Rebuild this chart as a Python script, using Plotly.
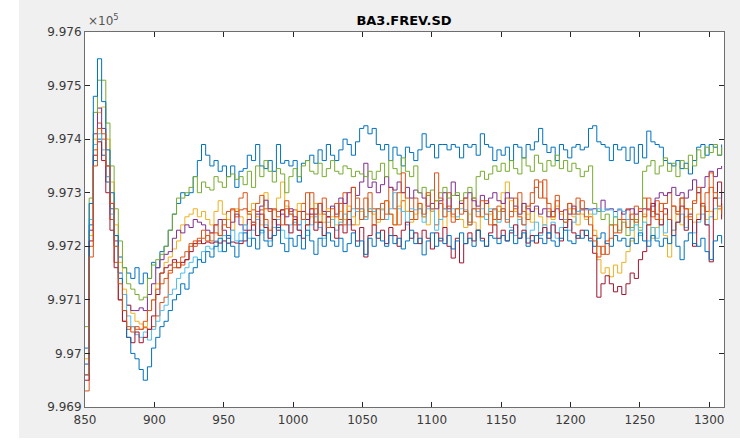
import plotly.graph_objects as go

# sample times (every 3 units from 850 to 1309)
t = list(range(850, 1310, 3))

# values in Hz (axis shown as x10^5)
blue_high = [
    997010, 997240, 997360, 997400, 997370, 997320, 997270, 997220, 997180, 997160,
    997150, 997140, 997160, 997130, 997150, 997140, 997170, 997160, 997190, 997200,
    997230, 997260, 997280, 997300, 997295, 997300, 997330, 997360, 997390, 997370,
    997350, 997360, 997340, 997350, 997330, 997350, 997310, 997340, 997345, 997370,
    997360, 997390, 997350, 997345, 997360, 997340, 997390, 997355, 997360, 997350,
    997360, 997320, 997355, 997360, 997370, 997355, 997380, 997360, 997390, 997370,
    997360, 997380, 997400, 997390, 997370, 997395, 997420, 997425, 997410, 997420,
    997390, 997380, 997390, 997360, 997385, 997370, 997350, 997385, 997375, 997360,
    997380, 997410, 997385, 997390, 997365, 997390, 997390, 997380, 997390, 997385,
    997365, 997390, 997385, 997390, 997370, 997410, 997390, 997385, 997360, 997380,
    997370, 997385, 997360, 997390, 997385, 997365, 997390, 997380, 997395, 997420,
    997390, 997375, 997385, 997360, 997390, 997380, 997365, 997385, 997390, 997380,
    997385, 997420, 997425, 997395, 997390, 997385, 997360, 997390, 997380, 997385,
    997360, 997385, 997355, 997390, 997365, 997415, 997395, 997390, 997385, 997360,
    997355, 997350, 997360, 997345, 997355, 997335, 997360, 997385, 997390, 997370,
    997390, 997385, 997370, 997390]

orange_a = [
    996930, 997200, 997380, 997430, 997400, 997330, 997250, 997170, 997100, 997060,
    997045, 997050, 997045, 997045, 997048, 997045, 997050, 997070, 997095, 997105,
    997150, 997160, 997170, 997165, 997175, 997200, 997210, 997205, 997215, 997220,
    997210, 997225, 997220, 997240, 997265, 997268, 997265, 997268, 997270, 997265,
    997268, 997265, 997268, 997270, 997265, 997268, 997265, 997268, 997270, 997265,
    997268, 997265, 997280, 997260, 997300, 997270, 997245, 997290, 997265, 997250,
    997280, 997250, 997300, 997265, 997240, 997290, 997270, 997255, 997300, 997270,
    997250, 997280, 997260, 997310, 997270, 997240, 997285, 997265, 997250, 997290,
    997270, 997255, 997295, 997265, 997240, 997280, 997270, 997300, 997260, 997250,
    997280, 997265, 997245, 997290, 997270, 997255, 997285, 997265, 997250, 997275,
    997265, 997290, 997255, 997270, 997300, 997265, 997250, 997280, 997310, 997320,
    997290, 997270, 997255, 997285, 997265, 997250, 997280, 997270, 997260, 997285,
    997270, 997255, 997220, 997200, 997185, 997210, 997240, 997225, 997250, 997265,
    997270, 997250, 997275, 997265, 997290, 997270, 997255, 997285, 997265, 997280,
    997300, 997275, 997265, 997290, 997270, 997255, 997280, 997300, 997275, 997265,
    997310, 997290, 997270, 997280]

yellow = [
    996990, 997220, 997400, 997450, 997460, 997400, 997320, 997240, 997170, 997120,
    997090, 997075, 997060, 997055, 997050, 997080, 997100, 997130, 997150, 997170,
    997180, 997195, 997210, 997240, 997255, 997260, 997270, 997255, 997265, 997250,
    997240, 997265, 997285, 997260, 997250, 997230, 997270, 997255, 997240, 997260,
    997280, 997255, 997240, 997300, 997270, 997250, 997290, 997320, 997275, 997260,
    997250, 997280, 997265, 997240, 997255, 997280, 997260, 997245, 997270, 997255,
    997240, 997265, 997250, 997275, 997255, 997240, 997265, 997250, 997270, 997260,
    997245, 997270, 997285, 997260, 997240, 997275, 997300, 997265, 997245, 997260,
    997280, 997255, 997240, 997265, 997285, 997250, 997235, 997265, 997255, 997270,
    997250, 997235, 997260, 997245, 997230, 997255, 997280, 997260, 997240, 997265,
    997300, 997320, 997285, 997265, 997250, 997280, 997260, 997245, 997270, 997255,
    997240, 997265, 997250, 997275, 997260, 997245, 997270, 997255, 997240, 997260,
    997250, 997260, 997230, 997175, 997150, 997160, 997143, 997165, 997150, 997170,
    997190, 997210, 997250, 997235, 997260, 997240, 997215, 997235, 997250, 997220,
    997180, 997230, 997260, 997240, 997255, 997270, 997245, 997260, 997275, 997250,
    997265, 997250, 997270, 997255]

purple = [
    996980, 997230, 997410, 997458, 997420, 997350, 997280, 997210, 997150, 997110,
    997090, 997080, 997080, 997085, 997080, 997110, 997130, 997160, 997175, 997185,
    997190, 997215, 997230, 997225, 997240, 997235, 997250, 997245, 997240, 997230,
    997225, 997240, 997250, 997230, 997215, 997245, 997260, 997240, 997230, 997250,
    997240, 997260, 997275, 997286, 997270, 997250, 997240, 997260, 997255, 997270,
    997255, 997240, 997265, 997250, 997270, 997260, 997280, 997265, 997255, 997275,
    997260, 997290, 997280, 997300, 997310, 997295, 997320, 997355, 997310, 997320,
    997300, 997315, 997330, 997310, 997305, 997320, 997300, 997310, 997290, 997305,
    997300, 997290, 997275, 997280, 997270, 997285, 997300, 997270, 997320, 997295,
    997280, 997290, 997300, 997285, 997275, 997295, 997280, 997290, 997300, 997285,
    997280, 997300, 997290, 997275, 997260, 997280, 997270, 997265, 997275, 997260,
    997270, 997255, 997265, 997270, 997250, 997268, 997260, 997275, 997265, 997268,
    997270, 997268, 997270, 997265, 997286, 997268, 997270, 997265, 997268, 997260,
    997268, 997270, 997260, 997265, 997270, 997268, 997275, 997290, 997300, 997295,
    997300, 997310, 997295, 997300, 997290, 997305, 997324, 997300, 997310, 997330,
    997340, 997330, 997345, 997350]

green = [
    997050, 997290, 997450, 997510, 997510, 997430, 997350, 997270, 997210, 997160,
    997130, 997120, 997110, 997100, 997105, 997140, 997165, 997175, 997185, 997200,
    997230, 997260, 997290, 997290, 997300, 997310, 997330, 997300, 997320, 997310,
    997305, 997330, 997320, 997310, 997330, 997335, 997325, 997330, 997315, 997340,
    997310, 997350, 997330, 997360, 997340, 997320, 997345, 997335, 997300, 997330,
    997345, 997330, 997350, 997360, 997340, 997335, 997355, 997330, 997345, 997360,
    997340, 997335, 997350, 997345, 997330, 997340, 997335, 997330, 997340, 997325,
    997340, 997355, 997330, 997360, 997345, 997335, 997365, 997340, 997330, 997350,
    997300, 997310, 997295, 997305, 997285, 997300, 997310, 997290, 997295, 997300,
    997285, 997300, 997310, 997290, 997330, 997340, 997325, 997335, 997350, 997340,
    997355, 997340, 997360, 997345, 997335, 997365, 997350, 997340, 997370, 997355,
    997340, 997360, 997350, 997370, 997345, 997360, 997340, 997355, 997345, 997330,
    997340, 997350, 997280, 997265, 997250, 997260, 997240, 997255, 997230, 997245,
    997220, 997235, 997250, 997230, 997340, 997350, 997360, 997335, 997350, 997365,
    997340, 997355, 997330, 997360, 997345, 997370, 997350, 997380, 997365, 997385,
    997375, 997390, 997370, 997385]

light_blue = [
    996980, 997250, 997390, 997410, 997380, 997330, 997260, 997200, 997150, 997110,
    997070, 997050, 997035, 997030, 997040, 997025, 997045, 997060, 997080, 997090,
    997110, 997120, 997140, 997150, 997160, 997170, 997180, 997175, 997190, 997200,
    997195, 997210, 997190, 997220, 997205, 997230, 997210, 997225, 997240, 997215,
    997230, 997250, 997225, 997240, 997210, 997235, 997250, 997230, 997215, 997240,
    997245, 997230, 997250, 997220, 997240, 997255, 997235, 997215, 997245, 997250,
    997230, 997245, 997260, 997240, 997270, 997265, 997270, 997250, 997270, 997265,
    997270, 997268, 997250, 997270, 997300, 997270, 997265, 997240, 997270, 997268,
    997270, 997245, 997270, 997268, 997230, 997250, 997270, 997265, 997270, 997255,
    997270, 997268, 997240, 997270, 997265, 997270, 997250, 997270, 997268, 997245,
    997270, 997250, 997235, 997220, 997250, 997240, 997215, 997230, 997245, 997220,
    997240, 997225, 997245, 997215, 997235, 997250, 997230, 997245, 997265, 997270,
    997268, 997270, 997260, 997270, 997265, 997270, 997268, 997255, 997270, 997265,
    997250, 997230, 997240, 997220, 997245, 997210, 997235, 997215, 997240, 997225,
    997250, 997230, 997245, 997260, 997235, 997250, 997225, 997245, 997260, 997240,
    997255, 997270, 997290, 997300]

dark_red = [
    996950, 997210, 997370, 997395, 997360, 997300, 997230, 997160, 997100, 997060,
    997030, 997020, 997040, 997020, 997030, 997045, 997070, 997110, 997150, 997160,
    997165, 997175, 997160, 997170, 997175, 997190, 997205, 997210, 997205, 997208,
    997206, 997208, 997206, 997210, 997206, 997208, 997206, 997205, 997210, 997230,
    997245, 997220, 997260, 997235, 997215, 997250, 997230, 997268, 997240, 997225,
    997250, 997230, 997215, 997240, 997260, 997230, 997245, 997220, 997255, 997235,
    997215, 997240, 997225, 997250, 997230, 997210, 997235, 997180, 997220, 997240,
    997215, 997230, 997205, 997235, 997220, 997200, 997230, 997245, 997215, 997225,
    997205, 997230, 997215, 997195, 997225, 997210, 997235, 997200, 997178, 997215,
    997169, 997205, 997225, 997210, 997230, 997215, 997200, 997225, 997240, 997215,
    997230, 997210, 997225, 997240, 997215, 997230, 997206, 997220, 997206, 997225,
    997235, 997215, 997240, 997225, 997210, 997235, 997250, 997225, 997215, 997230,
    997220, 997215, 997187, 997105, 997130, 997145, 997130, 997115, 997125, 997110,
    997130, 997150, 997140, 997175, 997190, 997240, 997280, 997260, 997240, 997270,
    997250, 997220, 997245, 997275, 997230, 997260, 997200, 997250, 997280, 997240,
    997171, 997290, 997320, 997250]

blue_low = [
    996960, 997280, 997480, 997550, 997470, 997380, 997300, 997220, 997140, 997080,
    997030, 997000, 996990, 996970, 996950, 996975, 997010, 997030, 997050, 997060,
    997080, 997100, 997110, 997130, 997120, 997150, 997160, 997175, 997170, 997190,
    997180, 997200, 997215, 997190, 997220, 997200, 997180, 997210, 997225, 997200,
    997215, 997195, 997230, 997210, 997200, 997220, 997235, 997205, 997190, 997215,
    997200, 997220, 997195, 997230, 997210, 997185, 997215, 997200, 997225, 997210,
    997200, 997215, 997190, 997205, 997225, 997200, 997210, 997185, 997215, 997200,
    997225, 997210, 997200, 997220, 997205, 997215, 997195, 997210, 997230, 997205,
    997215, 997184, 997210, 997225, 997200, 997215, 997205, 997220, 997195, 997210,
    997225, 997205, 997215, 997200, 997230, 997210, 997200, 997220, 997215, 997205,
    997220, 997210, 997230, 997205, 997215, 997225, 997200, 997210, 997220, 997215,
    997205, 997225, 997210, 997200, 997215, 997230, 997210, 997205, 997220, 997215,
    997230, 997210, 997200, 997215, 997225, 997205, 997200, 997220, 997210, 997215,
    997200, 997215, 997205, 997225, 997210, 997200, 997220, 997210, 997200, 997215,
    997205, 997220, 997200, 997175, 997210, 997225, 997205, 997200, 997215, 997190,
    997175, 997210, 997220, 997205]

orange_b = [
    996960, 997180, 997350, 997420, 997410, 997350, 997280, 997200, 997130, 997080,
    997050, 997040, 997050, 997045, 997060, 997080, 997100, 997120, 997130, 997140,
    997155, 997170, 997160, 997180, 997190, 997205, 997200, 997215, 997230, 997210,
    997225, 997240, 997220, 997250, 997235, 997270, 997255, 997290, 997300, 997260,
    997240, 997280, 997295, 997250, 997230, 997270, 997255, 997240, 997285, 997260,
    997240, 997265, 997250, 997300, 997270, 997245, 997280, 997260, 997235, 997270,
    997255, 997280, 997240, 997265, 997310, 997270, 997250, 997290, 997265, 997240,
    997270, 997250, 997285, 997260, 997240, 997300, 997337, 997290, 997265, 997250,
    997280, 997260, 997300, 997270, 997337, 997290, 997255, 997275, 997245, 997270,
    997260, 997290, 997240, 997270, 997255, 997285, 997260, 997240, 997270, 997250,
    997270, 997245, 997265, 997290, 997255, 997240, 997275, 997300, 997324, 997290,
    997324, 997280, 997255, 997295, 997265, 997245, 997280, 997260, 997290, 997270,
    997255, 997240, 997210, 997180, 997200, 997185, 997215, 997240, 997225, 997250,
    997235, 997260, 997245, 997270, 997255, 997290, 997265, 997250, 997280, 997260,
    997250, 997275, 997260, 997290, 997270, 997250, 997285, 997310, 997280, 997300,
    997337, 997300, 997275, 997260]

series = [blue_high, orange_a, yellow, purple, green, light_blue, dark_red, blue_low, orange_b]
colors = ["#0072BD", "#D95319", "#EDB120", "#7E2F8E", "#77AC30",
          "#4DBEEE", "#A2142F", "#0072BD", "#D95319"]

y_ticks = [996900, 997000, 997100, 997200, 997300, 997400, 997500, 997600]
y_labels = ["9.969", "9.97", "9.971", "9.972", "9.973", "9.974", "9.975", "9.976"]
x_ticks = [850, 900, 950, 1000, 1050, 1100, 1150, 1200, 1250, 1300]

fig = go.Figure()
for ys, c in zip(series, colors):
    fig.add_trace(go.Scatter(x=t, y=ys, mode="lines", line=dict(color=c, width=1, shape="hv"),
                             showlegend=False, hoverinfo="skip"))

W, H = 740, 440
L, R, T, B = 85, 16, 32, 33
pw, ph = W - L - R, H - T - B

axis_common = dict(showgrid=False, zeroline=False, showline=True, linecolor="#6e6e6e",
                   linewidth=1, mirror="allticks", ticks="inside", ticklen=5,
                   tickcolor="#262626", tickwidth=1,
                   tickfont=dict(family="DejaVu Sans", size=12, color="#3a3a3a"))

fig.update_layout(
    width=W, height=H,
    margin=dict(l=L, r=R, t=T, b=B),
    paper_bgcolor="#f0f0f0", plot_bgcolor="white",
    xaxis=dict(range=[850, 1310.7], tickvals=x_ticks, ticklabelstandoff=2, **axis_common),
    yaxis=dict(range=[996900, 997600], tickvals=y_ticks, ticktext=y_labels, **axis_common),
    title=dict(text="<b>BA3.FREV.SD</b>", x=(404 / W), xanchor="center",
               y=1 - 20 / H, yanchor="middle",
               font=dict(family="DejaVu Sans", size=13, color="#000000")),
    shapes=[
        # white strip on the left edge of the figure
        dict(type="rect", xref="paper", yref="paper", layer="below",
             x0=-L / pw - 0.01, x1=(19 - L) / pw, y0=-B / ph - 0.01, y1=(ph + T) / ph + 0.01,
             fillcolor="white", line=dict(width=0)),
        # white strip at the bottom edge
        dict(type="rect", xref="paper", yref="paper", layer="below",
             x0=-L / pw - 0.01, x1=(W - L) / pw + 0.01, y0=-B / ph - 0.01, y1=(407 - 438) / ph,
             fillcolor="white", line=dict(width=0)),
    ],
    annotations=[dict(text="×10<sup>5</sup>", xref="paper", yref="paper",
                      x=1 / pw, y=1 + 2 / ph, xanchor="left", yanchor="bottom",
                      showarrow=False, font=dict(family="DejaVu Sans", size=12, color="#555555"))],
)

fig.write_html("out.html")
